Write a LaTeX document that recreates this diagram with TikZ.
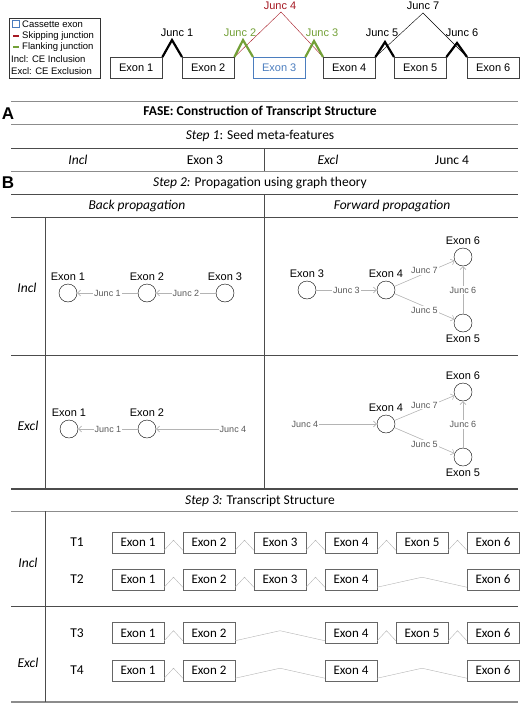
\documentclass[tikz,border=0pt]{standalone}
\usepackage{fontspec}
\setmainfont{Carlito}
\newfontfamily\arialfont{Liberation Sans}
\usetikzlibrary{arrows.meta,calc}

\definecolor{skipred}{RGB}{165,25,35}
\definecolor{flankgreen}{RGB}{115,160,55}
\definecolor{cassblue}{RGB}{75,125,190}
\definecolor{edgegray}{RGB}{180,180,180}
\definecolor{rulegray}{RGB}{140,140,140}

\tikzset{
  exonbox/.style={draw=black!75,thin,minimum width=52pt,minimum height=21pt,inner sep=0pt,font=\arialfont\fontsize{11}{13}\selectfont},
  trbox/.style={draw=black!60,thin,minimum width=52pt,minimum height=21pt,inner sep=0pt,font=\fontsize{13}{15}\selectfont},
  exnode/.style={circle,draw,thin,minimum size=18pt,inner sep=0pt},
  juncedge/.style={draw=edgegray,semithick,->},
  junclab/.style={fill=white,inner sep=1pt,text=black!65,font=\arialfont\fontsize{9}{10}\selectfont},
  juncthick/.style={line width=2.2pt},
  junctext/.style={font=\arialfont\fontsize{11}{13}\selectfont,inner sep=0pt},
  tabtext/.style={font=\fontsize{13.5}{16}\selectfont},
  panel/.style={font=\arialfont\bfseries\fontsize{17}{17}\selectfont,inner sep=0pt},
  rule/.style={draw=rulegray,line width=0.9pt},
  darkrule/.style={draw=black!70,line width=1pt},
  intron/.style={draw=edgegray,thin},
}

\begin{document}
\begin{tikzpicture}[x=1pt,y=-1pt,>={Straight Barb[length=3pt,width=6pt]},
  every label/.style={font=\arialfont\fontsize{11}{13}\selectfont,inner sep=1pt},label distance=1.5pt]
  \useasboundingbox (0,0) rectangle (520,704);

  % legend
  \draw[black!80] (9,18) rectangle (100,78);
  \draw[cassblue] (12.5,20.5) rectangle (19.5,27.5);
  \draw[skipred,line width=1.5pt] (13,36) -- (19,36);
  \draw[flankgreen,line width=1.5pt] (13,47) -- (19,47);
  \begin{scope}[every node/.style={anchor=west,inner sep=0pt,font=\arialfont\fontsize{9.5}{11}\selectfont}]
    \node (legcass) at (22,24) {Cassette exon};
    \node (legskip) at (22,36) {Skipping junction};
    \node (legflank) at (22,47) {Flanking junction};
    \node (legincl) at (11,59) {Incl: CE Inclusion};
    \node (legexcl) at (11,71) {Excl: CE Exclusion};
  \end{scope}

  % gene model
  \foreach \n/\x in {1/110,2/182,4/323,5/394,6/467}
    \node[exonbox,anchor=north west] (ex\n) at (\x,57) {Exon \n};
  \node[exonbox,draw=cassblue,text=cassblue,anchor=north west] (ex3) at (253,57) {Exon 3};

  \coordinate (ja1) at (172,40);
  \coordinate (ja2) at (243,40);
  \coordinate (ja3) at (314,41);
  \coordinate (ja4) at (281,12);
  \coordinate (ja5) at (385,42);
  \coordinate (ja6) at (457,43);
  \coordinate (ja7) at (423,13);

  \draw[skipred] (ex2.north east) -- (ja4) -- (ex4.north west);
  \draw (ex4.north east) -- (ja7) -- (ex6.north west);
  \draw[juncthick] (ex1.north east) -- (ja1) -- (ex2.north west);
  \draw[juncthick,flankgreen] (ex2.north east) -- (ja2) -- (ex3.north west);
  \draw[juncthick,flankgreen] (ex3.north east) -- (ja3) -- (ex4.north west);
  \draw[juncthick] (ex4.north east) -- (ja5) -- (ex5.north west);
  \draw[juncthick] (ex5.north east) -- (ja6) -- (ex6.north west);

  \node[junctext] (jl1) at (177,33) {Junc 1};
  \node[junctext,text=flankgreen] (jl2) at (240,33) {Junc 2};
  \node[junctext,text=flankgreen] (jl3) at (322,33) {Junc 3};
  \node[junctext,text=skipred] (jl4) at (280,6) {Junc 4};
  \node[junctext] (jl5) at (382,33) {Junc 5};
  \node[junctext] (jl6) at (462,33) {Junc 6};
  \node[junctext] (jl7) at (423,6) {Junc 7};

  % table rules
  \foreach \y in {101.5,124.5,171,511}
    \draw[rule] (11,\y) -- (518,\y);
  \foreach \y in {148,194.5,217.5,355,606}
    \draw[darkrule] (11,\y) -- (518,\y);
  \draw[darkrule,line width=1.4pt] (11,489) -- (518,489);
  \draw[rule,line width=1.2pt] (11,702) -- (518,702);
  \draw[darkrule] (264,148) -- (264,171);
  \draw[darkrule] (264,194.5) -- (264,489);
  \draw[darkrule] (45,217.5) -- (45,489);
  \draw[darkrule] (45,511) -- (45,702);

  % table text
  \node[panel] (pa) at (8,114) {A};
  \node[panel] (pb) at (8,183) {B};
  \node[tabtext] (title) at (260,112) {\textbf{FASE: Construction of Transcript Structure}};
  \node[tabtext] (step1) at (260,136) {\textit{Step 1}: Seed meta-features};
  \node[tabtext] (sincl) at (78,160) {\textit{Incl}};
  \node[tabtext] (sexon) at (205,160) {Exon 3};
  \node[tabtext] (sexcl) at (328,160) {\textit{Excl}};
  \node[tabtext] (sjunc) at (452,160) {Junc 4};
  \node[tabtext] (step2) at (260,183) {\textit{Step 2:} Propagation using graph theory};
  \node[tabtext] (back) at (137,206) {\textit{Back propagation}};
  \node[tabtext] (fwd) at (392,206) {\textit{Forward propagation}};
  \node[tabtext] (gincl) at (27,288) {\textit{Incl}};
  \node[tabtext] (gexcl) at (28,426) {\textit{Excl}};
  \node[tabtext] (step3) at (260,501) {\textit{Step 3:} Transcript Structure};
  \node[tabtext] (tincl) at (28,563) {\textit{Incl}};
  \node[tabtext] (texcl) at (28,663) {\textit{Excl}};

  % back propagation, inclusion
  \node[exnode,label=above:Exon 1] (bi1) at (68,293) {};
  \node[exnode,label=above:Exon 2] (bi2) at (147,293) {};
  \node[exnode,label=above:Exon 3] (bi3) at (225,293) {};
  \draw[juncedge] (bi3) -- node[junclab]{Junc 2} (bi2);
  \draw[juncedge] (bi2) -- node[junclab]{Junc 1} (bi1);

  % forward propagation, inclusion
  \node[exnode,label=above:Exon 3] (fi3) at (307,290) {};
  \node[exnode,label=above:Exon 4] (fi4) at (386,290) {};
  \node[exnode,label=above:Exon 6] (fi6) at (463,257) {};
  \node[exnode,label=below:Exon 5] (fi5) at (463,323) {};
  \draw[juncedge] (fi3) -- node[junclab]{Junc 3} (fi4);
  \draw[juncedge] (fi4) -- node[junclab,yshift=3pt]{Junc 7} (fi6);
  \draw[juncedge] (fi4) -- node[junclab,yshift=-4pt]{Junc 5} (fi5);
  \draw[juncedge] (fi5) -- node[junclab]{Junc 6} (fi6);

  % back propagation, exclusion
  \node[exnode,label=above:Exon 1] (be1) at (69,429) {};
  \node[exnode,label=above:Exon 2] (be2) at (147,429) {};
  \node[junclab] (be4) at (233,429) {Junc 4};
  \draw[juncedge] (be4) -- (be2);
  \draw[juncedge] (be2) -- node[junclab]{Junc 1} (be1);

  % forward propagation, exclusion
  \node[junclab] (fej) at (305,424) {Junc 4};
  \node[exnode,label=above:Exon 4] (fe4) at (386,424) {};
  \node[exnode,label=above:Exon 6] (fe6) at (463,392) {};
  \node[exnode,label=below:Exon 5] (fe5) at (463,457) {};
  \draw[juncedge] (fej) -- (fe4);
  \draw[juncedge] (fe4) -- node[junclab,yshift=3pt]{Junc 7} (fe6);
  \draw[juncedge] (fe4) -- node[junclab,yshift=-4pt]{Junc 5} (fe5);
  \draw[juncedge] (fe5) -- node[junclab]{Junc 6} (fe6);

  % transcripts
  \foreach \r/\y/\exs in {1/542.5/{1,2,3,4,5,6},2/579.5/{1,2,3,4,6},3/633/{1,2,4,5,6},4/670.5/{1,2,4,6}} {
    \node[tabtext] (tl\r) at (77,\y) {T\r};
    \foreach \e [remember=\e as \p (initially 0)] in \exs {
      \node[trbox] (t\r-\e) at ({\e*71+67},\y) {Exon \e};
      \ifnum\p>0
        \draw[intron] ([yshift=3pt]t\r-\p.south east) --
          ($([yshift=3pt]t\r-\p.south east)!0.5!([yshift=3pt]t\r-\e.south west)+(0,-10)$) --
          ([yshift=3pt]t\r-\e.south west);
      \fi
    }
  }
\end{tikzpicture}
\end{document}
